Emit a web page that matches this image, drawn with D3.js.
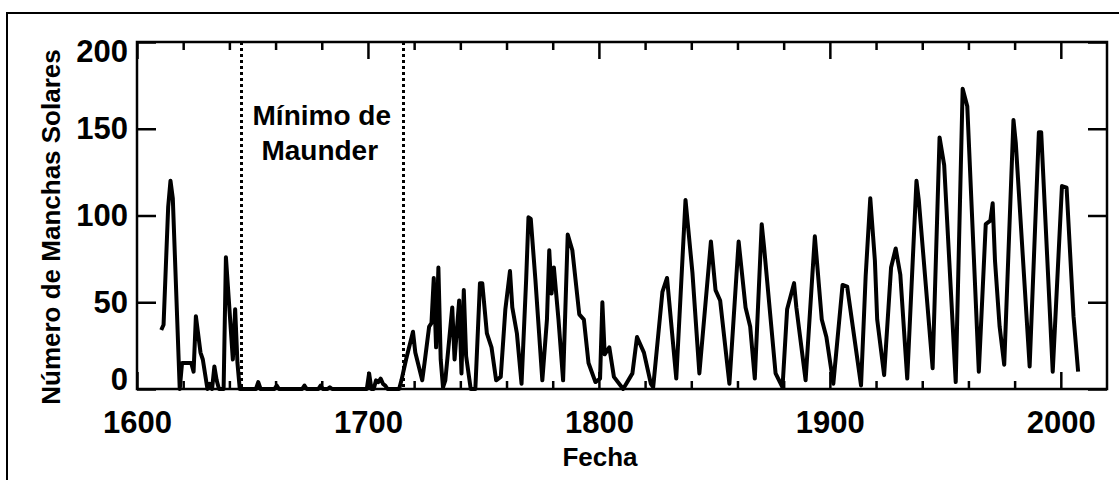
<!DOCTYPE html>
<html>
<head>
<meta charset="utf-8">
<script src="https://cdn.jsdelivr.net/npm/d3@7"></script>
<style>
  body { margin: 0; background: #fff; }
  text { font-family: "Liberation Sans", Arial, sans-serif; font-weight: bold; fill: #000; }
</style>
</head>
<body>
<div id="chart"></div>
<script>
// yearly sunspot numbers, [year, count]
const earlyCycles = [
    [1610, 34], [1611, 37], [1613, 105], [1614, 120], [1615, 110], [1618, 0], [1619, 15], [1623, 15],
    [1624, 10], [1625, 42], [1627, 21], [1628, 17], [1630, 0], [1631, 3], [1632, 0], [1633, 13],
    [1634, 5], [1635, 0], [1637, 0], [1638, 76], [1641, 17], [1642, 46], [1643, 15], [1644, 0]
];

const maunderYears = [
    [1645, 0], [1651, 0], [1652, 4], [1653, 0], [1659, 0], [1660, 2], [1661, 0], [1671, 0],
    [1672, 2], [1673, 0], [1678, 0], [1679, 2], [1680, 0], [1682, 0], [1683, 1], [1684, 0],
    [1699, 0], [1700, 9], [1701, 0], [1702, 0], [1703, 5], [1704, 4], [1705, 6], [1706, 3],
    [1707, 2], [1708, 0], [1713, 0]
];

const modernCycles = [
    [1714, 5], [1716, 17], [1719, 33], [1720, 21], [1723, 5], [1724, 15], [1726, 36], [1727, 38],
    [1728, 64], [1729, 24], [1730, 70], [1731, 17], [1732, 1], [1733, 5], [1736, 47], [1737, 17],
    [1739, 51], [1740, 9], [1741, 57], [1742, 19], [1744, 0], [1746, 0], [1748, 61], [1749, 61],
    [1751, 32], [1753, 24], [1755, 5], [1757, 7], [1759, 46], [1761, 68], [1762, 47], [1764, 32],
    [1766, 3], [1768, 63], [1769, 99], [1770, 98], [1772, 63], [1775, 5], [1777, 40], [1778, 80],
    [1779, 55], [1780, 70], [1782, 40], [1784, 5], [1786, 89], [1788, 80], [1791, 43], [1793, 40],
    [1795, 15], [1798, 4], [1800, 6], [1801, 50], [1802, 20], [1804, 24], [1806, 7], [1810, 0],
    [1814, 9], [1816, 30], [1819, 21], [1822, 3], [1823, 1], [1827, 56], [1829, 64], [1833, 6],
    [1837, 109], [1840, 67], [1843, 9], [1848, 85], [1850, 57], [1852, 51], [1856, 3], [1860, 85],
    [1863, 47], [1865, 36], [1867, 6], [1870, 95], [1871, 82], [1876, 9], [1879, 1], [1881, 46],
    [1884, 61], [1885, 47], [1889, 5], [1893, 88], [1896, 40], [1898, 30], [1901, 3], [1905, 60],
    [1907, 59], [1913, 2], [1915, 65], [1917, 110], [1919, 74], [1920, 40], [1923, 8], [1926, 70],
    [1928, 81], [1930, 66], [1933, 6], [1937, 120], [1938, 109], [1944, 12], [1947, 145], [1949, 129],
    [1954, 4], [1957, 173], [1959, 163], [1964, 10], [1967, 95], [1969, 97], [1970, 107], [1971, 74],
    [1973, 36], [1975, 14], [1979, 155], [1980, 142], [1986, 13], [1990, 148], [1991, 148], [1996, 10],
    [2000, 117], [2002, 116], [2005, 42], [2007, 10]
];

const maunderBounds = [1645, 1715];
const xMajorTicks = [1600, 1700, 1800, 1900, 2000];
const xMinorTicks = d3.range(1600, 2020, 20).filter(d => d % 100 !== 0);
const yTicks = [0, 50, 100, 150, 200];

const data = earlyCycles.concat(maunderYears, modernCycles);

const width = 1119, height = 480;
const margin = {top: 42, right: 12, bottom: 91, left: 137};

const svg = d3.select("#chart").append("svg")
    .attr("width", width)
    .attr("height", height);

// outer frame of the picture
svg.append("rect")
    .attr("x", 7).attr("y", 13)
    .attr("width", width + 20).attr("height", height + 20)
    .attr("fill", "none").attr("stroke", "#000").attr("stroke-width", 2);

const xScale = d3.scaleLinear()
    .domain([1600, 2020])
    .range([margin.left, width - margin.right]);

const yScale = d3.scaleLinear()
    .domain([0, 200])
    .range([height - margin.bottom, margin.top]);

const g = svg.append("g");

// maunder minimum bounds
g.selectAll(".bound")
    .data(maunderBounds)
    .enter().append("line")
    .attr("class", "bound")
    .attr("x1", d => Math.round(xScale(d)) + 0.5).attr("x2", d => Math.round(xScale(d)) + 0.5)
    .attr("y1", yScale(200)).attr("y2", yScale(0))
    .attr("stroke", "#000")
    .attr("stroke-width", 3)
    .attr("stroke-dasharray", "3,3");

const line = d3.line()
    .x(d => xScale(d[0] + 0.5))
    .y(d => yScale(d[1]));

g.append("path")
    .datum(data)
    .attr("d", line)
    .attr("fill", "none")
    .attr("stroke", "#000")
    .attr("stroke-width", 4)
    .attr("stroke-linejoin", "round");

// axes, ticks pointing inward
const bottomY = yScale(0), topY = yScale(200);

g.append("g")
    .attr("transform", `translate(0,${bottomY})`)
    .call(d3.axisBottom(xScale).tickValues(xMajorTicks).tickSize(-17).tickPadding(22).tickFormat(d3.format(".0f")));
g.append("g")
    .attr("transform", `translate(0,${bottomY})`)
    .call(d3.axisBottom(xScale).tickValues(xMinorTicks).tickSize(-8).tickFormat(""));
g.append("g")
    .attr("transform", `translate(0,${topY})`)
    .call(d3.axisTop(xScale).tickValues(xMajorTicks).tickSize(-17).tickFormat(""));
g.append("g")
    .attr("transform", `translate(0,${topY})`)
    .call(d3.axisTop(xScale).tickValues(xMinorTicks).tickSize(-8).tickFormat(""));

const yLeft = g.append("g")
    .attr("transform", `translate(${xScale(1600)},0)`)
    .call(d3.axisLeft(yScale).tickValues(yTicks).tickSize(-19).tickPadding(9));
g.append("g")
    .attr("transform", `translate(${xScale(2020)},0)`)
    .call(d3.axisRight(yScale).tickValues(yTicks).tickSize(-19).tickFormat(""));

g.selectAll(".domain").remove();
g.selectAll(".tick line").attr("stroke", "#000").attr("stroke-width", 2.5);
g.selectAll(".tick text").attr("font-size", 31).attr("font-family", null);

// first and last y labels sit inside the frame
yLeft.selectAll(".tick text")
    .attr("dy", d => d === 0 ? "0em" : d === 200 ? "0.62em" : "0.32em");

g.append("rect")
    .attr("x", xScale(1600)).attr("y", topY)
    .attr("width", xScale(2020) - xScale(1600))
    .attr("height", bottomY - topY)
    .attr("fill", "none").attr("stroke", "#000").attr("stroke-width", 2.5);

svg.append("text")
    .attr("x", 600).attr("y", 466)
    .attr("text-anchor", "middle")
    .attr("font-size", 26)
    .text("Fecha");

svg.append("text")
    .attr("transform", "translate(60,227) rotate(-90)")
    .attr("text-anchor", "middle")
    .attr("font-size", 26)
    .text("Número de Manchas Solares");

const midMaunder = xScale(d3.mean(maunderBounds));
svg.append("text")
    .attr("x", midMaunder).attr("y", 125)
    .attr("text-anchor", "middle")
    .attr("font-size", 28)
    .text("Mínimo de");
svg.append("text")
    .attr("x", midMaunder - 2).attr("y", 160)
    .attr("text-anchor", "middle")
    .attr("font-size", 28)
    .text("Maunder");
</script>
</body>
</html>
